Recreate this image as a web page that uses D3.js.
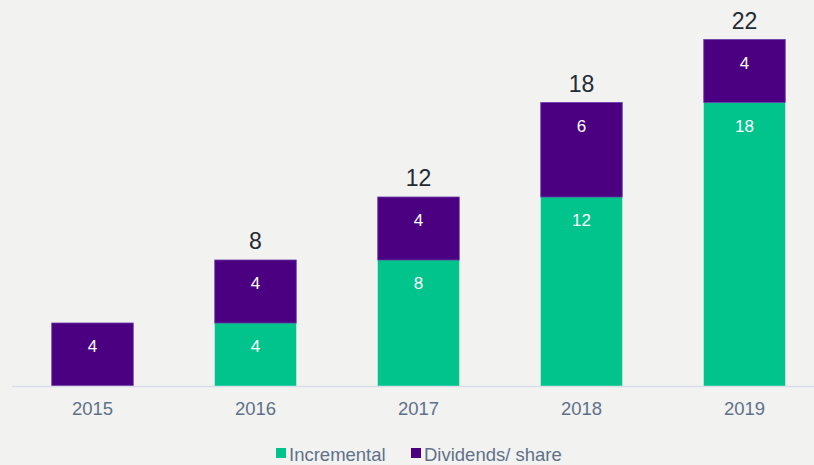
<!DOCTYPE html>
<html>
<head>
<meta charset="utf-8">
<script src="https://cdn.jsdelivr.net/npm/d3@7"></script>
<style>
  html, body { margin: 0; padding: 0; background: #f2f2f1; }
  svg { display: block; font-family: "Liberation Sans", Arial, sans-serif; }
</style>
</head>
<body>
<svg id="chart" width="814" height="465"></svg>
<script>
// Chart data
const years = ["2015", "2016", "2017", "2018", "2019"];
const incremental = [0, 4, 8, 12, 18];
const dividends = [4, 4, 4, 6, 4];
const seriesNames = ["Incremental", "Dividends/ share"];
const seriesColors = ["#00c48c", "#4b0082"];

const svg = d3.select("#chart");
const W = 814, H = 465;
const baseY = 386;

const x = d3.scaleBand()
  .domain(years)
  .range([11, 826])
  .paddingInner(0.5)
  .paddingOuter(0.25);

const y = d3.scaleLinear()
  .domain([0, 22])
  .range([baseY, 39.5]);

const rows = years.map((yr, i) => ({ year: yr, Incremental: incremental[i], "Dividends/ share": dividends[i] }));
const stacked = d3.stack().keys(seriesNames)(rows);

// Stacked bars
const layers = svg.append("g").selectAll("g")
  .data(stacked)
  .join("g")
  .attr("fill", (d, i) => seriesColors[i]);

layers.each(function(layer, li) {
  const g = d3.select(this);
  const segs = layer.filter(d => d[1] - d[0] > 0);
  g.selectAll("rect")
    .data(segs)
    .join("rect")
    .attr("x", d => x(d.data.year))
    .attr("y", d => y(d[1]))
    .attr("width", x.bandwidth())
    .attr("height", d => y(d[0]) - y(d[1]))
    .attr("stroke", li === 1 ? "#6a3aa8" : "none")
    .attr("stroke-width", 0.8);
  g.selectAll("text")
    .data(segs)
    .join("text")
    .attr("x", d => x(d.data.year) + x.bandwidth() / 2)
    .attr("y", d => y(d[1]) + 29)
    .attr("text-anchor", "middle")
    .attr("fill", "#ffffff")
    .attr("font-size", 17)
    .text(d => d[1] - d[0]);
});

// Totals above the bars that stack both series
svg.append("g").selectAll("text")
  .data(rows.filter(d => d.Incremental > 0))
  .join("text")
  .attr("x", d => x(d.year) + x.bandwidth() / 2)
  .attr("y", d => y(d.Incremental + d["Dividends/ share"]) - 11)
  .attr("text-anchor", "middle")
  .attr("fill", "#222a33")
  .attr("font-size", 23)
  .text(d => d.Incremental + d["Dividends/ share"]);

// Category axis
const axis = svg.append("g")
  .attr("transform", `translate(0,${baseY})`)
  .call(d3.axisBottom(x).tickSize(0).tickPadding(0));
axis.select(".domain").remove();
axis.selectAll("text")
  .attr("y", 29)
  .attr("dy", null)
  .attr("font-size", 18.5)
  .attr("font-family", "'Liberation Sans', Arial, sans-serif")
  .attr("fill", "#5f7189");
svg.append("line")
  .attr("x1", 12).attr("x2", W)
  .attr("y1", baseY + 0.5).attr("y2", baseY + 0.5)
  .attr("stroke", "#d9dee8")
  .attr("stroke-width", 1.5);

// Legend
const legend = svg.append("g");
const legendX = [276, 411];
seriesNames.forEach((name, i) => {
  const g = legend.append("g").attr("transform", `translate(${legendX[i]},0)`);
  g.append("rect")
    .attr("x", 0).attr("y", 448)
    .attr("width", 10).attr("height", 10)
    .attr("fill", seriesColors[i]);
  g.append("text")
    .attr("x", 13).attr("y", 461)
    .attr("font-size", 18.5)
    .attr("fill", "#5f7189")
    .text(name);
});
</script>
</body>
</html>
